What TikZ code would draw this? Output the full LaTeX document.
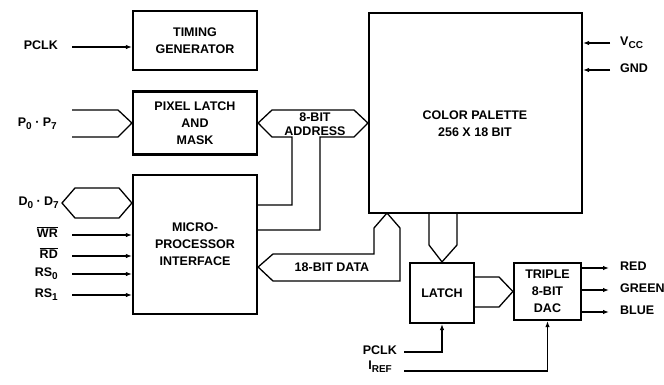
\documentclass[tikz,border=0pt]{standalone}
\usepackage{fontspec}
\setmainfont{Liberation Sans}
\usetikzlibrary{arrows.meta}
\newcommand{\lowidx}[1]{\raisebox{-2.5pt}{\fontsize{10}{10}\selectfont #1}}
\begin{document}
\begin{tikzpicture}[x=1pt, y=-1pt,
    every node/.style={font=\fontsize{12.5}{17}\selectfont\bfseries},
    blk/.style={draw, line width=2.2pt, inner sep=0pt, align=center},
    lbl/.style={inner sep=0pt},
    bus/.style={line width=1.3pt},
    sig/.style={line width=1.3pt, -{Latex[length=6pt,width=4.5pt]}}]
    \useasboundingbox (0,0) rectangle (664,384);

    % Define nodes
    \node[blk, minimum width=124, minimum height=59] (tg) at (195,40.5) {TIMING\\GENERATOR};
    \node[blk, minimum width=124, minimum height=63] (plm) at (195,123) {PIXEL LATCH\\AND\\MASK};
    \node[blk, minimum width=124, minimum height=139] (mpu) at (195,244.5) {MICRO-\\PROCESSOR\\INTERFACE};
    \node[blk, minimum width=213, minimum height=200] (pal) at (475.5,113) {};
    \node[align=center] (paltext) at (475,124) {COLOR PALETTE\\256 X 18 BIT};
    \node[blk, minimum width=64, minimum height=60] (latch) at (442,293) {LATCH};
    \node[blk, minimum width=67, minimum height=57] (dac) at (547.5,291.5) {TRIPLE\\8-BIT\\DAC};

    % Define labels
    \node[lbl, anchor=mid east] (pclka) at (58,47) {PCLK};
    \node[lbl, anchor=mid east] (pin) at (57,124) {P\lowidx{0} · P\lowidx{7}};
    \node[lbl, anchor=mid east] (din) at (59,203) {D\lowidx{0} · D\lowidx{7}};
    \node[lbl, anchor=mid east] (wr) at (58,235) {$\overline{\mbox{WR}}$};
    \node[lbl, anchor=mid east] (rd) at (58,256) {$\overline{\mbox{RD}}$};
    \node[lbl, anchor=mid east] (rs0) at (58,274) {RS\lowidx{0}};
    \node[lbl, anchor=mid east] (rs1) at (58,295) {RS\lowidx{1}};
    \node[lbl, anchor=mid west] (vcc) at (620,43) {V\lowidx{CC}};
    \node[lbl, anchor=mid west] (gnd) at (620,70) {GND};
    \node[lbl, anchor=mid west] (red) at (620,268) {RED};
    \node[lbl, anchor=mid west] (green) at (620,290) {GREEN};
    \node[lbl, anchor=mid west] (blue) at (620,312) {BLUE};
    \node[lbl, anchor=mid east] (pclkb) at (397,352) {PCLK};
    \node[lbl, anchor=mid east] (iref) at (392,367) {I\lowidx{REF}};
    \node[font=\fontsize{12.5}{14}\selectfont\bfseries, align=center] (addr) at (315,124) {8-BIT\\ADDRESS};
    \node (data) at (332,267) {18-BIT DATA};

    % Draw buses
    \draw[bus] (72,110) -- (118,110) -- (plm.west) -- (118,137) -- (72,137);
    \draw[bus] (62,203) -- (75,188) -- (119,188) -- (mpu.west |- 0,203) -- (119,218) -- (75,218) -- cycle;
    \draw[bus] (mpu.east |- 0,205) -- (292,205) -- (292,137) -- (272,137) -- (plm.east) -- (272,110)
        -- (354,110) -- (pal.west |- plm.east) -- (354,137) -- (320,137) -- (320,230) -- (mpu.east |- 0,230);
    \draw[bus] (mpu.east |- 0,267) -- (273,254) -- (374,254) -- (374,228) -- (387,213) -- (400,228)
        -- (400,281) -- (273,281) -- cycle;
    \draw[bus] (429,213) -- (429,245) -- (latch.north) -- (457,245) -- (457,213);
    \draw[bus] (474,277) -- (499,277) -- (dac.west) -- (499,307) -- (474,307);

    % Draw signals
    \draw[sig] ([xshift=14pt]pclka.mid east) -- (tg.west |- pclka.mid east);
    \draw[sig] ([xshift=14pt]wr.mid east) -- (mpu.west |- wr.mid east);
    \draw[sig] ([xshift=14pt]rd.mid east) -- (mpu.west |- rd.mid east);
    \draw[sig] ([xshift=14pt]rs0.mid east) -- (mpu.west |- rs0.mid east);
    \draw[sig] ([xshift=14pt]rs1.mid east) -- (mpu.west |- rs1.mid east);
    \draw[sig] ([xshift=-10pt]vcc.mid west) -- (pal.east |- vcc.mid west);
    \draw[sig] ([xshift=-10pt]gnd.mid west) -- (pal.east |- gnd.mid west);
    \draw[sig] (dac.east |- red.mid west) -- ([xshift=-11pt]red.mid west);
    \draw[sig] (dac.east |- green.mid west) -- ([xshift=-11pt]green.mid west);
    \draw[sig] (dac.east |- blue.mid west) -- ([xshift=-11pt]blue.mid west);
    \draw[sig] ([xshift=7pt]pclkb.mid east) -| (latch.south);
    \draw[sig] ([xshift=12pt,yshift=-4pt]iref.mid east) -| (dac.south);

\end{tikzpicture}
\end{document}
